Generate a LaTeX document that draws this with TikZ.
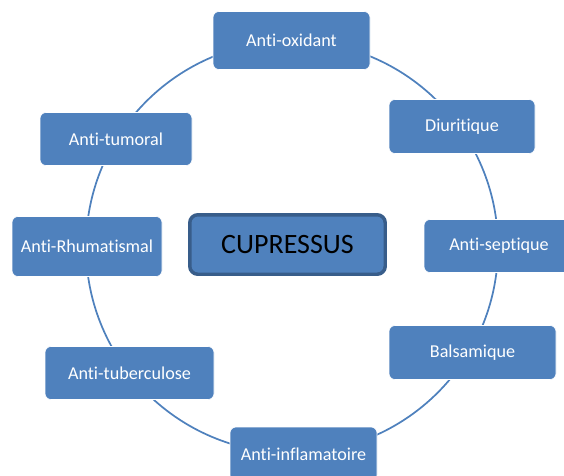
\documentclass[tikz,border=0pt]{standalone}
\usepackage{fontspec}
\setmainfont{Carlito}[RawFeature={-liga;-clig;-dlig}]
\definecolor{boxblue}{HTML}{4F81BD}
\definecolor{darkblue}{HTML}{385D8A}
\begin{document}
\begin{tikzpicture}[x=0.75pt,y=-0.75pt,
  box/.style={rectangle, rounded corners=4.5pt, fill=boxblue, draw=white, line width=0.5pt,
    text=white, font=\fontsize{13.6}{15}\selectfont, inner sep=0pt, align=center},
  centerbox/.style={rectangle, rounded corners=6pt, fill=boxblue, draw=darkblue, line width=2.6pt,
    text=black, font=\fontsize{21}{24}\selectfont, inner sep=0pt},
  ring/.style={draw=boxblue, line width=1.3pt}]
\useasboundingbox (0,0) rectangle (564,475);
\coordinate (c) at (292,247);
\draw[ring] (c) circle[radius=154.5pt];
\node[box, minimum width=117.75pt, minimum height=43.5pt] (ox) at (291.5,40.5) {Anti-oxidant};
\node[box, minimum width=109.5pt, minimum height=40.5pt] (di) at (462,126.5) {Diuritique};
\node[box, minimum width=112.5pt, minimum height=39.75pt] (se) at (499,246) {Anti-septique};
\node[box, minimum width=125.25pt, minimum height=40.5pt] (ba) at (472.5,352.5) {Balsamique};
\node[box, minimum width=110.25pt, minimum height=40.5pt] (in) at (303.5,454) {Anti-inflamatoire};
\node[box, minimum width=126.75pt, minimum height=39.75pt] (tu) at (129.5,373) {Anti-tuberculose};
\node[box, minimum width=112.5pt, minimum height=45pt] (rh) at (87,246.5) {Anti-Rhumatismal};
\node[box, minimum width=114pt, minimum height=39.75pt] (tm) at (116,139) {Anti-tumoral};
\node[centerbox, minimum width=146.6pt, minimum height=44.6pt] (cu) at (287.5,244.5) {CUPRESSUS};
\end{tikzpicture}
\end{document}
